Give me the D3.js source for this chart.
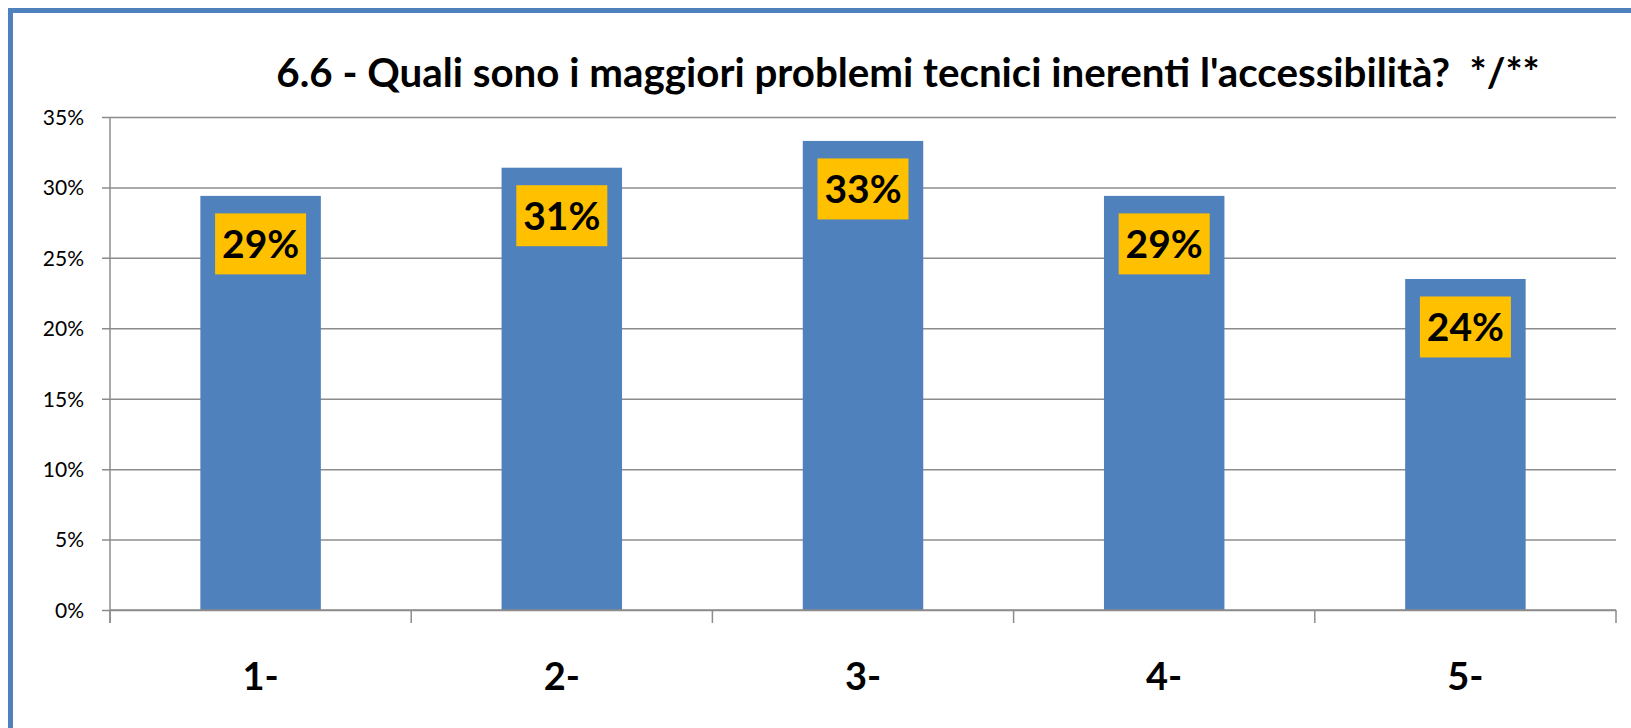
<!DOCTYPE html>
<html>
<head>
<meta charset="utf-8">
<script src="https://d3js.org/d3.v7.min.js"></script>
<style>
    body { margin: 0; background: #ffffff; }
    svg { display: block; font-family: Lato, "Open Sans", sans-serif; }
</style>
</head>
<body>
<div id="chart"></div>
<script>
// chart data
var title = "6.6 - Quali sono i maggiori problemi tecnici inerenti l'accessibilità?  */**";
var categories = ['1-', '2-', '3-', '4-', '5-'];
var values = [0.294, 0.314, 0.333, 0.294, 0.235];
var valueLabels = ['29%', '31%', '33%', '29%', '24%'];
var yTicks = [0, 0.05, 0.10, 0.15, 0.20, 0.25, 0.30, 0.35];

var width = 1631,
    height = 728;
var margin = { top: 117, right: 15, bottom: 118, left: 110 };

var barColor = '#4f81bd',
    labelColor = '#ffc000',
    gridColor = '#8c8c8c';

var svg = d3.select('#chart').append('svg')
    .attr('width', width)
    .attr('height', height);

// frame of the chart area (right and bottom edges fall outside the picture)
svg.append('rect')
    .attr('x', 10.5)
    .attr('y', 10.5)
    .attr('width', width + 20)
    .attr('height', height + 20)
    .attr('fill', 'none')
    .attr('stroke', barColor)
    .attr('stroke-width', 5);

var x = d3.scaleBand()
    .domain(categories)
    .range([margin.left, width - margin.right])
    .paddingInner(0.6)
    .paddingOuter(0.3);

var y = d3.scaleLinear()
    .domain([0, 0.35])
    .range([height - margin.bottom, margin.top]);

function fitText(sel, target) {
    /*
    Scales the font size of a text element so its width matches target.
    */
    var w = sel.node().getComputedTextLength();
    var size = parseFloat(sel.attr('font-size'));
    sel.attr('font-size', size * target / w);
}

// title (keep the double space before the asterisks)
var titleText = svg.append('text')
    .attr('x', 908)
    .attr('y', 87)
    .attr('text-anchor', 'middle')
    .attr('font-size', 38)
    .attr('font-weight', 'bold')
    .attr('fill', '#000')
    .style('white-space', 'pre')
    .text(title);
fitText(titleText, 1264);

// horizontal gridlines with small ticks left of the axis
var yAxis = d3.axisLeft(y)
    .tickValues(yTicks)
    .tickSize(-(width - margin.left - margin.right))
    .tickFormat(d3.format('.0%'));

var gy = svg.append('g')
    .attr('transform', 'translate(' + margin.left + ',0)')
    .call(yAxis)
    .attr('font-family', null)
    .attr('font-size', null);

gy.select('.domain').remove();
gy.selectAll('.tick line')
    .attr('x1', -8)
    .attr('stroke', gridColor)
    .attr('stroke-width', 1.5);
gy.selectAll('.tick text')
    .attr('x', -26)
    .attr('dy', '0.35em')
    .attr('font-size', 21)
    .attr('fill', '#000');

// vertical axis line, running a bit below the baseline
svg.append('line')
    .attr('x1', margin.left)
    .attr('x2', margin.left)
    .attr('y1', y(0.35))
    .attr('y2', y(0) + 13)
    .attr('stroke', gridColor)
    .attr('stroke-width', 1.5);

// bars
svg.selectAll('.bar')
    .data(values)
    .enter().append('rect')
    .attr('class', 'bar')
    .attr('x', function(d, i) { return x(categories[i]); })
    .attr('y', function(d) { return y(d); })
    .attr('width', x.bandwidth())
    .attr('height', function(d) { return y(0) - y(d); })
    .attr('fill', barColor);

// category axis with ticks between categories
var step = x.step();
var bounds = categories.map(function(c) { return x(c) - step * 0.3; });
bounds.push(width - margin.right);

svg.append('line')
    .attr('x1', margin.left)
    .attr('x2', width - margin.right)
    .attr('y1', y(0))
    .attr('y2', y(0))
    .attr('stroke', gridColor)
    .attr('stroke-width', 1.5);

svg.selectAll('.xtick')
    .data(bounds)
    .enter().append('line')
    .attr('class', 'xtick')
    .attr('x1', function(d) { return d; })
    .attr('x2', function(d) { return d; })
    .attr('y1', y(0))
    .attr('y2', y(0) + 13)
    .attr('stroke', gridColor)
    .attr('stroke-width', 1.5);

svg.selectAll('.xlabel')
    .data(categories)
    .enter().append('text')
    .attr('class', 'xlabel')
    .attr('x', function(d) { return x(d) + x.bandwidth() / 2; })
    .attr('y', 690)
    .attr('text-anchor', 'middle')
    .attr('font-size', 38)
    .attr('font-weight', 'bold')
    .attr('fill', '#000')
    .text(function(d) { return d; });

// value labels on yellow boxes
var labels = svg.selectAll('.vlabel')
    .data(values)
    .enter().append('g')
    .attr('class', 'vlabel')
    .attr('transform', function(d, i) {
        return 'translate(' + (x(categories[i]) + x.bandwidth() / 2) + ',' + (y(d) + 48) + ')';
    });

labels.append('rect')
    .attr('x', -45.5)
    .attr('y', -30.5)
    .attr('width', 91)
    .attr('height', 61)
    .attr('fill', labelColor);

labels.append('text')
    .attr('text-anchor', 'middle')
    .attr('dy', '0.36em')
    .attr('font-size', 39)
    .attr('font-weight', 'bold')
    .attr('fill', '#000')
    .text(function(d, i) { return valueLabels[i]; });
</script>
</body>
</html>
